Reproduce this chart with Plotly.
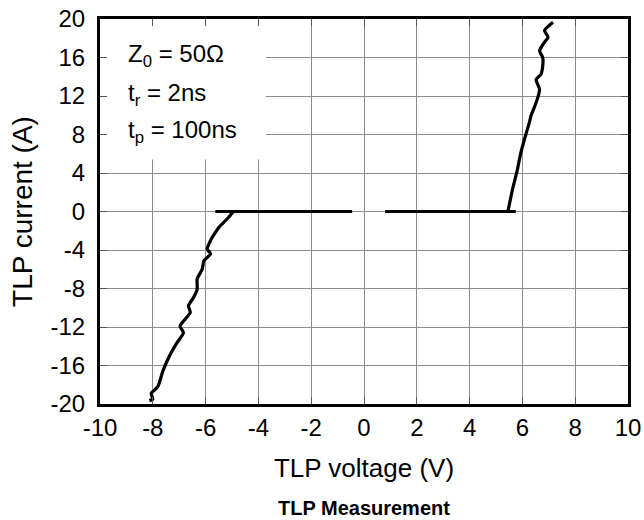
import plotly.graph_objects as go

# ---- data ----
pos_flat_v = [0.8, 5.75]
pos_flat_i = [0.0, 0.0]
neg_flat_v = [-5.63, -0.45]
neg_flat_i = [0.0, 0.0]

pos_v = [5.45, 5.61, 5.81, 5.94, 6.13, 6.26, 6.32, 6.45, 6.58, 6.65, 6.52, 6.71,
         6.77, 6.77, 6.65, 6.84, 6.97, 6.84, 7.16]
pos_i = [0.0, 2.1, 4.35, 6.1, 8.0, 9.2, 9.9, 10.8, 11.8, 12.7, 13.7, 14.3,
         15.1, 16.0, 16.7, 17.6, 18.1, 18.8, 19.65]

neg_v = [-4.95, -5.16, -5.48, -5.61, -5.81, -5.94, -5.81, -6.06, -6.13, -6.32, -6.32,
         -6.45, -6.65, -6.58, -6.97, -6.84, -7.10, -7.35, -7.61, -7.81, -8.06, -8.0, -8.13]
neg_i = [0.0, -0.7, -1.6, -2.1, -3.0, -3.9, -4.4, -5.1, -6.0, -7.0, -8.1,
         -8.9, -9.8, -10.5, -11.9, -12.6, -13.7, -14.9, -16.5, -18.2, -18.9, -19.5, -19.65]

x_tickvals = [-10, -8, -6, -4, -2, 0, 2, 4, 6, 8, 10]
x_ticktext = ["-10", "-8", "-6", "-4", "-2", "0", "2", "4", "6", "8", "10"]
y_tickvals = [-20, -16, -12, -8, -4, 0, 4, 8, 12, 16, 20]
y_ticktext = ["-20", "-16", "-12", "-8", "-4", "0", "4", "8", "12", "16", "20"]

legend_lines = ["Z<sub>0</sub> = 50Ω", "t<sub>r</sub> = 2ns", "t<sub>p</sub> = 100ns"]
legend_y = [16.2, 12.2, 8.3]

FONT = "Liberation Sans, Arial, sans-serif"
line_style = dict(color="black", width=3.2)

fig = go.Figure()
for xs, ys in [(neg_flat_v, neg_flat_i), (pos_flat_v, pos_flat_i), (pos_v, pos_i), (neg_v, neg_i)]:
    fig.add_trace(go.Scatter(x=xs, y=ys, mode="lines", line=dict(line_style, shape="spline", smoothing=0.6),
                             showlegend=False, hoverinfo="skip"))

axis_common = dict(
    showline=True, linecolor="black", linewidth=3, mirror="ticks",
    ticks="inside", ticklen=7, tickwidth=1, tickcolor="#555",
    showgrid=True, gridcolor="#8c8c8c", gridwidth=1, zeroline=False,
    tickfont=dict(family=FONT, size=24, color="black"),
)

fig.update_xaxes(axis_common, range=[-10, 10], tickvals=x_tickvals, ticktext=x_ticktext,
                 ticklabelstandoff=0,
                 title=dict(text="TLP voltage (V)", font=dict(family=FONT, size=26, color="black"), standoff=20))
fig.update_yaxes(axis_common, range=[-20, 20], tickvals=y_tickvals, ticktext=y_ticktext,
                 ticklabelstandoff=7,
                 title=dict(text="TLP current (A)", font=dict(family=FONT, size=28, color="black"), standoff=10))

fig.add_shape(type="rect", xref="x", yref="y", x0=-10, x1=-3.72, y0=5.4, y1=20,
              fillcolor="white", line=dict(width=0), layer="between")

for txt, yv in zip(legend_lines, legend_y):
    fig.add_annotation(x=-9.0, y=yv, xref="x", yref="y", text=txt, showarrow=False,
                       xanchor="left", yanchor="middle",
                       font=dict(family=FONT, size=24, color="black"))

fig.add_annotation(x=0.5, y=-0.27, xref="paper", yref="paper", xanchor="center", yanchor="middle",
                   text="<b>TLP Measurement</b>", showarrow=False,
                   font=dict(family=FONT, size=20, color="black"))

fig.update_layout(
    width=644, height=520,
    margin=dict(l=100, r=16, t=19, b=116, autoexpand=False),
    paper_bgcolor="white", plot_bgcolor="white",
    font=dict(family=FONT, color="black"),
)

fig.write_html("out.html", config={"displayModeBar": False},
               post_script="document.body.style.margin='0';")
